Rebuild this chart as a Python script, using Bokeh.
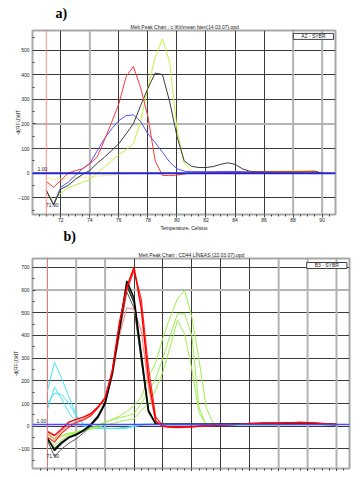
from bokeh.plotting import figure
from bokeh.models import Range1d, FixedTicker, Span, Label, Title
from bokeh.layouts import column
from bokeh.embed import file_html
from bokeh.resources import INLINE

# ---------------- Panel a data ----------------
T_A = [71.0, 71.5, 72.0, 72.5, 73.0, 73.5, 74.0, 74.5, 75.0, 75.5,
       76.0, 76.5, 77.0, 77.5, 78.0, 78.5, 79.0, 79.5, 80.0, 80.5,
       81.0, 81.5, 82.0, 82.5, 83.0, 83.5, 84.0, 84.5, 85.0, 85.5,
       86.0, 86.5, 87.0, 87.5, 88.0, 88.5, 89.0, 89.5, 90.0]
YELLOW_A = [-15, -28, -22, -20, -18, -17, -15, -12, -10, -8,
            -5, -2, 0, 0, 0, 0, 1, 1, 1, 1,
            1, 2, 2, 2, 2, 3, 3, 3, 3, 4,
            5, 6, 8, 9, 9, 9, 9, 8, 0]
LIME_A = [-70, -115, -80, -60, -48, -38, -27, 0, 25, 50,
          75, 95, 119, 210, 349, 472, 546, 450, 180, 40,
          8, 6, 6, 6, 6, 6, 6, 6, 6, 6,
          7, 8, 8, 8, 9, 9, 9, 8, 0]
BLUE_A = [-70, -127, -57, -37, -9, 18, 40, 90, 140, 180,
          214, 234, 237, 210, 160, 125, 85, 45, 18, 8,
          6, 6, 6, 6, 7, 7, 7, 6, 5, 5,
          5, 5, 5, 5, 5, 5, 5, 5, 0]
BLACK_A = [-70, -130, -65, -50, -25, -5, 11, 40, 65, 92,
           120, 160, 201, 275, 345, 407, 401, 290, 150, 50,
           28, 23, 23, 27, 36, 42, 36, 18, 8, 6,
           5, 5, 5, 5, 5, 6, 7, 8, 0]
RED_A = [-35, -57, -30, 0, 10, 18, 38, 65, 133, 207,
         282, 393, 434, 347, 230, 50, -9, -10, -8, -3,
         0, 1, 2, 2, 3, 3, 3, 3, 4, 4,
         4, 5, 5, 5, 5, 6, 6, 6, 0]

X_TICKS_A = [72, 74, 76, 78, 80, 82, 84, 86, 88, 90]
X_MINOR_A = [70.5, 71, 71.5, 72.5, 73, 73.5, 74.5, 75, 75.5, 76.5, 77, 77.5,
             78.5, 79, 79.5, 80.5, 81, 81.5, 82.5, 83, 83.5, 84.5, 85, 85.5,
             86.5, 87, 87.5, 88.5, 89, 89.5, 90.5]
Y_TICKS_A = [-100, 0, 100, 200, 300, 400, 500]
Y_MINOR_A = [-150, -50, 50, 150, 250, 350, 450, 550]
LIGHT_X_A = [74, 88, 90]
LIGHT_Y_A = [200]
THRESH_A = 0
MARKER_T = 71.0

# ---------------- Panel b data ----------------
T_B = [71.0, 71.5, 72.0, 72.5, 73.0, 73.5, 74.0, 74.5, 75.0, 75.5,
       76.0, 76.5, 77.0, 77.5, 78.0, 78.5, 79.0, 79.5, 80.0, 80.5,
       81.0, 81.5, 82.0, 82.5, 83.0, 83.5, 84.0, 84.5, 85.0, 85.5,
       86.0, 86.5, 87.0, 87.5, 88.0, 88.5, 89.0, 89.5, 90.0, 90.5, 91.0]
CYAN1_B = [150, 282, 210, 130, 50, 5, -5, -8, -8, -10,
           -10, -8, 0, 8, 10, 10, 10, 10, 10, 10,
           10, 10, 10, 10, 10, 10, 10, 10, 10, 10,
           10, 10, 10, 10, 10, 10, 10, 10, 10, 9, 8]
CYAN2_B = [69, 172, 120, 60, 15, 0, -5, -8, -10, -10,
           -8, -5, 0, 5, 8, 8, 8, 8, 8, 8,
           8, 8, 8, 8, 8, 8, 8, 8, 8, 8,
           8, 8, 8, 8, 8, 8, 8, 8, 8, 8, 7]
CYAN3_B = [100, 145, 140, 100, 45, 10, -5, -8, -10, -10,
           -10, -8, -2, 5, 8, 8, 8, 9, 9, 9,
           9, 9, 9, 9, 9, 9, 9, 9, 9, 9,
           9, 9, 9, 9, 9, 9, 9, 9, 9, 8, 7]
LIME1_B = [-35, -60, -45, -35, -28, -20, -12, 0, 15, 30,
           45, 65, 90, 128, 216, 280, 390, 480, 560, 600,
           480, 290, 80, 10, 8, 8, 8, 8, 8, 8,
           8, 8, 8, 8, 8, 9, 9, 9, 9, 8, 7]
LIME2_B = [-30, -55, -40, -30, -25, -15, -8, 5, 18, 28,
           38, 45, 55, 100, 150, 210, 300, 400, 495, 495,
           400, 80, 2, 3, 5, 6, 6, 6, 6, 6,
           6, 6, 6, 7, 7, 7, 7, 7, 7, 6, 5]
LIME3_B = [-50, -85, -60, -42, -32, -22, -12, -5, 5, 12,
           20, 27, 32, 70, 100, 160, 240, 350, 466, 407,
           250, 60, 5, 5, 5, 6, 6, 6, 6, 6,
           6, 6, 6, 6, 7, 7, 7, 7, 7, 6, 5]
BLACK1_B = [-51, -107, -75, -50, -38, -20, 5, 40, 100, 235,
            430, 640, 565, 320, 70, 10, 9, 9, 9, 9,
            9, 9, 9, 9, 9, 9, 10, 10, 10, 10,
            10, 10, 10, 10, 10, 10, 10, 10, 10, 9, 8]
BLACK2_B = [-62, -133, -100, -75, -56, -30, 0, 35, 95, 220,
            410, 592, 520, 290, 60, 8, 8, 8, 8, 8,
            8, 8, 8, 8, 8, 8, 8, 8, 8, 9,
            9, 9, 9, 9, 9, 9, 9, 9, 9, 8, 7]
BLACK3_B = [-55, -100, -70, -48, -35, -18, 8, 45, 105, 240,
            440, 620, 545, 300, 65, 10, 8, 8, 8, 8,
            8, 8, 8, 8, 9, 9, 9, 9, 9, 9,
            9, 9, 9, 9, 9, 9, 9, 9, 9, 8, 7]
RED1_B = [-23, -41, -12, 18, 30, 40, 55, 84, 125, 245,
          460, 612, 700, 520, 210, 22, 0, -4, -5, -4,
          -2, 0, 2, 3, 5, 6, 8, 10, 12, 13,
          14, 14, 14, 15, 15, 16, 15, 14, 12, 10, 8]
RED2_B = [-48, -70, -30, -4, 15, 28, 45, 80, 120, 235,
          445, 600, 685, 560, 260, 40, 2, -5, -6, -5,
          -3, 0, 2, 3, 5, 6, 8, 10, 12, 13,
          14, 14, 14, 15, 16, 17, 16, 14, 12, 10, 8]
RED3_B = [-35, -55, -20, 5, 20, 32, 48, 82, 118, 225,
          400, 522, 515, 420, 170, 20, -2, -4, -5, -4,
          -2, 0, 2, 3, 5, 6, 8, 10, 11, 12,
          13, 13, 13, 14, 14, 15, 14, 13, 11, 9, 8]

X_TICKS_B = [71, 73, 75, 77, 79, 81, 83, 85, 87, 89, 91]
X_MINOR_B = [70.5, 71.5, 72, 72.5, 73.5, 74, 74.5, 75.5, 76, 76.5, 77.5, 78,
             78.5, 79.5, 80, 80.5, 81.5, 82, 82.5, 83.5, 84, 84.5, 85.5, 86,
             86.5, 87.5, 88, 88.5, 89.5, 90, 90.5, 91.5]
Y_TICKS_B = [-100, 0, 100, 200, 300, 400, 500, 600, 700]
Y_MINOR_B = [-150, -50, 50, 150, 250, 350, 450, 550, 650]
LIGHT_X_B = [73, 75, 87, 89, 91]
LIGHT_Y_B = [600]
THRESH_B = 7

FONT = "Liberation Sans"
GRID = "#3a3a3a"
LIGHT = "#b4b4b4"


def make_fig(xr, yr, fw, fh, borders, xt, xm, yt, ym, show_xlabels, ylab_standoff):
    p = figure(frame_width=fw, frame_height=fh,
               x_range=Range1d(*xr), y_range=Range1d(*yr),
               output_backend="svg", toolbar_location=None,
               min_border_left=borders[0], min_border_right=borders[1],
               min_border_top=borders[2], min_border_bottom=borders[3])
    p.background_fill_color = "white"
    p.border_fill_color = "white"
    p.outline_line_color = "#a8a8a8"
    p.outline_line_width = 2
    xa = p.xaxis[0]
    ya = p.yaxis[0]
    xa.ticker = FixedTicker(ticks=xt, minor_ticks=xm)
    ya.ticker = FixedTicker(ticks=yt, minor_ticks=ym)
    p.xgrid[0].ticker = FixedTicker(ticks=xt)
    p.ygrid[0].ticker = FixedTicker(ticks=yt)
    for g in (p.xgrid[0], p.ygrid[0]):
        g.grid_line_color = GRID
        g.grid_line_width = 1
    for ax in (xa, ya):
        ax.axis_line_color = None
        ax.major_tick_line_color = "#404040"
        ax.minor_tick_line_color = "#404040"
        ax.major_label_text_font = FONT
        ax.major_label_text_font_size = "5px"
        ax.major_label_text_color = "#202020"
        ax.axis_label_text_font = FONT
        ax.axis_label_text_font_size = "5px"
        ax.axis_label_text_font_style = "normal"
        ax.axis_label_text_color = "#202020"
    xa.major_tick_in = 0
    xa.major_tick_out = 3
    xa.minor_tick_in = 0
    xa.minor_tick_out = 2
    xa.major_label_standoff = 0
    xa.axis_label_standoff = 0
    if not show_xlabels:
        xa.major_label_text_font_size = "1px"
        xa.major_label_text_alpha = 0
        xa.major_label_standoff = 0
    ya.major_tick_in = 3
    ya.major_tick_out = 0
    ya.minor_tick_in = 2
    ya.minor_tick_out = 0
    ya.major_label_standoff = 3
    ya.axis_label_standoff = ylab_standoff
    ya.axis_label = "-d(RFU)/dT"
    return p


def small_label(p, x, y, text, align="left", box=False):
    kw = dict(x=x, y=y, text=text, text_font=FONT, text_font_size="5px",
              text_color="#202020", text_align=align, text_baseline="middle")
    if box:
        kw.update(border_line_color="#404040", border_line_width=1,
                  background_fill_color="white", padding=(8, 0))
    p.add_layout(Label(**kw))


def chart_title(p, text, offset):
    p.add_layout(Title(text=text, align="left", offset=offset,
                       text_font=FONT, text_font_size="5px",
                       text_font_style="normal", text_color="#202020",
                       standoff=2), "above")


def panel_letter(p, text, offset, side, valign, standoff):
    p.add_layout(Title(text=text, align="left", offset=offset,
                       vertical_align=valign,
                       text_font="Liberation Serif", text_font_size="14px",
                       text_font_style="bold", text_color="#000000",
                       standoff=standoff), side)


# ---------------- Panel a ----------------
pa = make_fig((70.05, 90.92), (-168, 580), 303, 184, (32, 27, 30, 34),
              X_TICKS_A, X_MINOR_A, Y_TICKS_A, Y_MINOR_A, True, -6)
pa.xaxis[0].axis_label = "Temperature, Celsius"
chart_title(pa, "Melt Peak Chart : c:\\Kit\\mean bien(14.03.07).opd", 98)
panel_letter(pa, "a)", 23, "above", "bottom", 0)
panel_letter(pa, "b)", 31, "below", "top", -10)
for v in LIGHT_X_A:
    pa.add_layout(Span(location=v, dimension="height", line_color=LIGHT,
                       line_width=2, level="underlay"))
for v in LIGHT_Y_A:
    pa.add_layout(Span(location=v, dimension="width", line_color=LIGHT,
                       line_width=2, level="underlay"))

pa.line(T_A, YELLOW_A, line_color="#f2ee9c", line_width=1)
pa.line(T_A, LIME_A, line_color="#bff542", line_width=1)
pa.line(T_A, BLUE_A, line_color="#5252f5", line_width=1)
pa.line(T_A, BLACK_A, line_color="#3a3a3a", line_width=1)
pa.line(T_A, RED_A, line_color="#ff3a3a", line_width=1)

pa.add_layout(Span(location=MARKER_T, dimension="height",
                   line_color="#ff8a8a", line_width=1))
pa.add_layout(Span(location=THRESH_A, dimension="width",
                   line_color="#2424d0", line_width=2))

small_label(pa, 89.40, 556, "A2 - SYBR", "center", box=True)
small_label(pa, 70.40, 15, "1.00")
small_label(pa, 70.98, -131, "71.90")

# ---------------- Panel b ----------------
pb = make_fig((69.98, 91.9), (-186.3, 738.8), 317, 210, (31, 14, 10, 2),
              X_TICKS_B, X_MINOR_B, Y_TICKS_B, Y_MINOR_B, False, -4)
chart_title(pb, "Melt Peak Chart : CD44 LÍNEAS (22.03.07).opd", 106)
for v in LIGHT_X_B:
    pb.add_layout(Span(location=v, dimension="height", line_color=LIGHT,
                       line_width=2, level="underlay"))
for v in LIGHT_Y_B:
    pb.add_layout(Span(location=v, dimension="width", line_color=LIGHT,
                       line_width=2, level="underlay"))

for ys in (CYAN1_B, CYAN2_B, CYAN3_B):
    pb.line(T_B, ys, line_color="#48e6f0", line_width=1)
for ys in (LIME1_B, LIME2_B, LIME3_B):
    pb.line(T_B, ys, line_color="#9cf04a", line_width=1)
pb.line(T_B, BLACK2_B, line_color="#5a5a5a", line_width=1)
pb.line(T_B, BLACK3_B, line_color="#1c381c", line_width=1.5)
pb.line(T_B, RED3_B, line_color="#ff7a7a", line_width=1)
pb.line(T_B, RED2_B, line_color="#ff2a2a", line_width=1.2)
pb.line(T_B, BLACK1_B, line_color="#000000", line_width=1.5)
pb.line(T_B, RED1_B, line_color="#ff0000", line_width=1.5)

pb.add_layout(Span(location=MARKER_T, dimension="height",
                   line_color="#ff9a9a", line_width=1))
pb.add_layout(Span(location=THRESH_B, dimension="width",
                   line_color="#4a4aff", line_width=1.5))

small_label(pb, 90.33, 708, "B3 - SYBR", "center", box=True)
small_label(pb, 70.26, 22, "1.00")
small_label(pb, 70.95, -133, "71.90")

layout = column(pa, pb)
open("out.html", "w").write(file_html(layout, INLINE))
